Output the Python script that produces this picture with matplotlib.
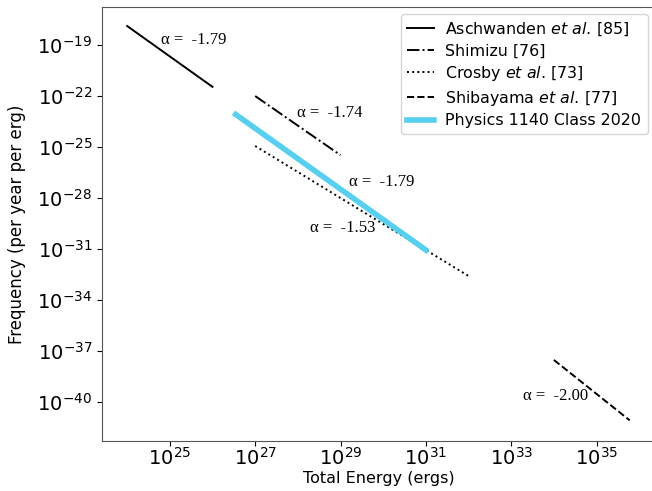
import numpy as np
import matplotlib
matplotlib.use("Agg")
import matplotlib.pyplot as plt

# Power-law fits: frequency = 10**log_amp * E**alpha, over energy range [e_lo, e_hi]
names = ["Aschwanden $\\it{et\\ al}$. [85]", "Shimizu [76]", "Crosby $\\it{et\\ al}$. [73]",
         "Shibayama $\\it{et\\ al}$. [77]", "Physics 1140 Class 2020"]
alphas = [-1.79, -1.74, -1.53, -2.00, -1.79]
log_amps = [25.08, 24.98, 16.37, 30.47, 24.43]
e_lo = [1e24, 1e27, 1e27, 1e34, 3.5e26]
e_hi = [1e26, 1e29, 1e32, 6e35, 1e31]
styles = ["-", "-.", ":", "--", "-"]
colors = ["black", "black", "black", "black", "#55d0f0"]
widths = [1.4, 1.4, 1.4, 1.4, 4]

# where the alpha labels sit (energy, frequency), same order as the fits
label_xy = [(3.6e25, 2e-19), (5.6e28, 1e-23), (1.1e29, 1.7e-30), (1.1e34, 2.2e-40), (9e29, 9e-28)]

fig = plt.figure(figsize=(6.52, 4.91), dpi=100)
ax = fig.add_axes([102/652, 50/491, 553/652, 434/491])

for i in range(len(names)):
    E = np.logspace(np.log10(e_lo[i]), np.log10(e_hi[i]), 50)
    f = 10**log_amps[i] * E**alphas[i]
    ax.plot(E, f, linestyle=styles[i], color=colors[i], lw=widths[i], label=names[i])

for i in range(len(names)):
    ax.text(label_xy[i][0], label_xy[i][1], "α =  %.2f" % alphas[i],
            family="Liberation Serif", fontsize=12, ha="center", va="center")

ax.set_xscale("log")
ax.set_yscale("log")
ax.set_xlim(10**23.41, 10**36.37)
ax.set_ylim(10**-42.3, 10**-16.76)
ax.set_xticks([1e25, 1e27, 1e29, 1e31, 1e33, 1e35])
ax.set_yticks([1e-19, 1e-22, 1e-25, 1e-28, 1e-31, 1e-34, 1e-37, 1e-40])
ax.minorticks_off()
ax.tick_params(labelsize=14)
ax.tick_params(axis="x", pad=1)
for s in ax.spines.values():
    s.set_color("#555555")

ax.set_xlabel("Total Energy (ergs)", fontsize=11.5, labelpad=1)
ax.set_ylabel("Frequency (per year per erg)", fontsize=12, labelpad=8)
ax.legend(loc="upper right", fontsize=11.4, bbox_to_anchor=(0.998, 0.998),
          labelspacing=0.35, borderaxespad=0.4, handlelength=1.7, handletextpad=0.7)

fig.savefig("out.png", dpi=100)
